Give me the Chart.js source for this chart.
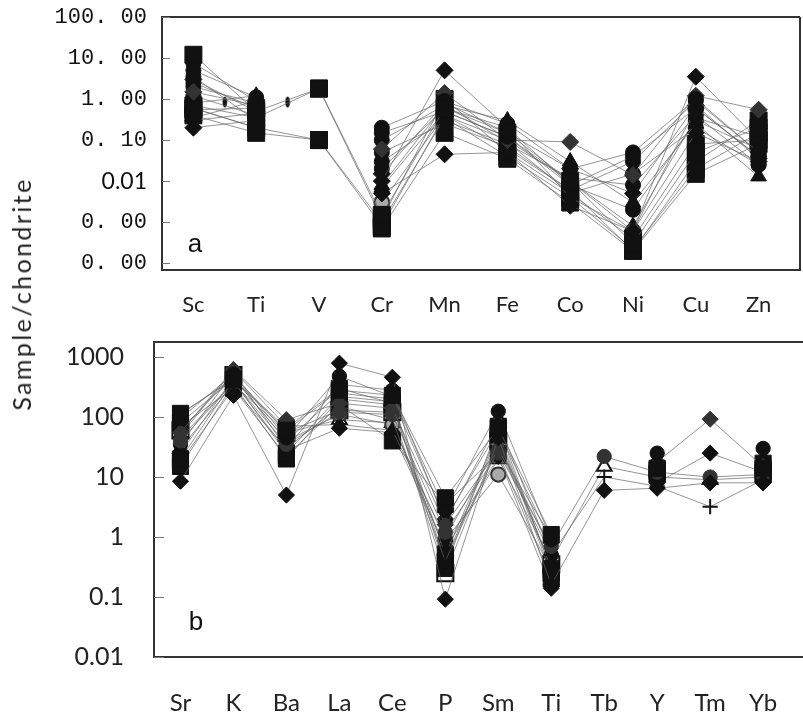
<!DOCTYPE html>
<html>
<head>
<meta charset="utf-8">
<script src="https://cdn.jsdelivr.net/npm/chart.js@4.4.1/dist/chart.umd.min.js"></script>
<style>
  body { margin: 0; background: #fff; width: 803px; height: 718px; position: relative; overflow: hidden; }
  canvas { position: absolute; left: 0; }
  #yTitle {
    position: absolute; left: 21px; top: 294px;
    transform: translate(-50%, -50%) rotate(-90deg);
    font-family: Lato, sans-serif; font-size: 25px; letter-spacing: 2.4px;
    white-space: nowrap; color: #222;
  }
</style>
</head>
<body>
<canvas id="chartA" width="803" height="320" style="top:0"></canvas>
<canvas id="chartB" width="803" height="398" style="top:320px"></canvas>
<div id="yTitle">Sample/chondrite</div>
<script>
// ---- panel a: transition metals ----
var elementsA = ["Sc", "Ti", "V", "Cr", "Mn", "Fe", "Co", "Ni", "Cu", "Zn"];
var tickValuesA = [100, 10, 1, 0.1, 0.01, 0.001, 0.0001];
var tickLabelsA = ["100. 00", "10. 00", "1. 00", "0. 10", "0.01", "0. 00", "0. 00"];

var a01 = [12, 0.5, 1.8, 0.0015, 0.6, 0.15, 0.01, 0.0003, 0.05, 0.2];
var a02 = [7.5, 0.9, null, 0.2, 0.9, 0.25, 0.02, 0.05, 1.0, 0.05];
var a03 = [5, 1.1, null, 0.15, 0.5, 0.12, 0.008, 0.04, 0.6, 0.04];
var a04 = [0.2, 0.3, null, 0.01, 5, 0.2, 0.004, 0.0006, 3.5, 0.1];
var a05 = [1.5, 0.7, null, 0.06, 1.4, 0.1, 0.09, 0.014, 1.2, 0.55];
var a06 = [0.6, 0.2, 0.1, 0.0008, 0.4, 0.06, 0.006, 0.0002, 0.03, 0.3];
var a07 = [2.5, 0.6, null, 0.03, 0.3, 0.08, 0.012, 0.008, 0.4, 0.025];
var a08 = [0.8, 1.2, null, 0.008, 0.7, 0.3, 0.03, 0.003, 0.25, 0.013];
var a09 = [0.3, 0.45, null, 0.005, 0.045, 0.05, 0.0025, 0.0006, 0.15, 0.03];
var a10 = [0.7, 0.35, 1.8, 0.0012, 1.0, 0.05, 0.005, 0.0004, 0.08, 0.1];
var a11 = [0.6, 0.2, null, 0.003, 0.4, 0.1, 0.01, 0.0006, 0.6, 0.04];
var a12 = [2, 0.8, null, 0.02, 0.6, 0.2, 0.008, 0.002, 0.3, 0.06];
var a13 = [0.4, 0.15, 0.1, 0.001, 0.35, 0.04, 0.004, 0.00022, 0.02, 0.15];
var a14 = [3, 0.5, null, 0.015, 0.8, 0.15, 0.02, 0.005, 0.7, 0.035];
var a15 = [1.2, 0.4, null, 0.05, 0.25, 0.07, 0.006, 0.03, 0.9, 0.05];
var a16 = [0.35, 0.9, null, 0.007, 0.5, 0.12, 0.01, 0.0008, 0.35, 0.12];
var a17 = [0.55, 0.6, null, 0.0007, 0.15, 0.035, 0.003, 0.0002, 0.015, 0.08];
var a18 = [3.5, 0.3, null, 0.1, 0.7, 0.09, 0.005, 0.015, 0.2, 0.025];
// short marks sitting between Sc-Ti and Ti-V
var midMarksA = [{ x: 0.5, y: 0.85 }, { x: 1.5, y: 0.85 }];

var seriesA = [a01, a02, a03, a04, a05, a06, a07, a08, a09, a10, a11, a12, a13, a14, a15, a16, a17, a18];
var shapeA = ["rect", "circle", "circle", "rectRot", "rectRot", "rect", "circle", "triangle", "rectRot",
              "rect", "circle", "circle", "rect", "rectRot", "circle", "triangle", "rect", "circle"];
var fillA = ["#111", "#111", "#111", "#111", "#333", "#111", "#111", "#111", "#111",
             "#111", "#aaa", "#111", "#111", "#111", "#111", "#111", "#111", "#111"];

// ---- panel b: trace elements ----
var elementsB = ["Sr", "K", "Ba", "La", "Ce", "P", "Sm", "Ti", "Tb", "Y", "Tm", "Yb"];
var tickValuesB = [1000, 100, 10, 1, 0.1, 0.01];
var tickLabelsB = ["1000", "100", "10", "1", "0.1", "0.01"];

var b01 = [115, 420, 60, 280, 230, 4.5, 65, 1.1, null, 14, null, 14];
var b02 = [95, 520, 45, 480, 220, 2.8, 125, 0.9, null, 25, null, 30];
var b03 = [8.5, 230, 5, 790, 460, 0.092, 45, 0.16, 6, 6.5, 8, 8];
var b04 = [55, 620, 90, 170, 140, 1.6, 28, 1.0, null, 18, 92, 15];
var b05 = [40, 380, 35, 120, 110, 1.2, 25, 0.7, 22, 12, 10, 11];
var b06 = [70, 300, 30, 150, 90, 0.4, 30, 0.5, 10, 7, 3.2, 9];
var b07 = [20, 400, 25, 220, 180, 0.5, 55, 0.3, null, 12, null, 12];
var b08 = [15, 350, 20, 200, 160, 0.4, 50, 0.25, null, 11, null, 17];
var b09 = [50, 600, 70, 75, 60, 1.0, 35, 0.6, null, 9, null, 10];
var b10 = [25, 450, 40, 250, 200, 2.0, 60, 0.8, null, 8, 25, 12];
var b11 = [35, 550, 30, 350, 280, 1.8, 80, 0.5, null, 16, null, 18];
var b12 = [18, 300, 22, 160, 40, 3.5, 25, 0.2, null, 13, null, 11];
var b13 = [45, 380, 28, 65, 55, 0.7, 22, 0.14, null, 15, null, 8];
var b14 = [80, 430, 65, 300, 170, 0.3, 70, 0.28, null, 13, null, 13];
var b15 = [110, 450, 40, 110, 75, 0.9, 11, 0.3, null, null, null, null];
var b16 = [60, 500, 55, 130, 120, 0.25, 40, 0.35, null, null, null, null];
var b17 = [30, 350, 55, 90, 80, 0.6, 20, 0.4, 15, 10, 9, 10];

var seriesB = [b01, b02, b03, b04, b05, b06, b07, b08, b09, b10, b11, b12, b13, b14, b15, b16, b17];
var shapeB = ["rect", "circle", "rectRot", "rectRot", "circle", "cross", "rect", "rect", "triangle",
              "rectRot", "circle", "rect", "rectRot", "rect", "circle", "rect", "triangle"];
var fillB = ["#111", "#111", "#111", "#333", "#333", "#111", "#111", "#111", "#111",
             "#111", "#111", "#111", "#111", "#111", "#aaa", "#fff", "#fff"];

var radiusOf = { rect: 12, circle: 7.5, rectRot: 8.5, triangle: 9, cross: 8 };

function toPoints(values) {
  return values.map(function (v, i) { return { x: i, y: v }; });
}

function buildSets(series, shapes, fills, scale) {
  return series.map(function (values, i) {
    var open = fills[i] === "#fff";
    var shape = shapes[i];
    return {
      data: toPoints(values),
      borderColor: "#666",
      borderWidth: 0.7,
      pointStyle: shape,
      pointRadius: radiusOf[shape] * scale,
      pointBackgroundColor: fills[i],
      pointBorderColor: open || shape === "cross" ? "#111" : (fills[i] === "#aaa" ? "#333" : fills[i]),
      pointBorderWidth: open || shape === "cross" || fills[i] === "#aaa" ? 2 : 1,
      spanGaps: false,
      tension: 0
    };
  });
}

// axes keep their box exactly where layout puts it
function noLabelPadding(s) {
  s.paddingTop = 0; s.paddingBottom = 0; s.paddingLeft = 0; s.paddingRight = 0;
}

// little vertical tick used for the marks between columns
var dashMark = document.createElement("canvas");
dashMark.width = 6; dashMark.height = 12;
(function () {
  var c = dashMark.getContext("2d");
  c.fillStyle = "#111";
  c.beginPath();
  c.ellipse(3, 6, 2.3, 5.5, 0, 0, Math.PI * 2);
  c.fill();
})();

// frame, inward ticks and panel letter
var framePlugin = {
  id: "frame",
  afterDraw: function (chart, args, opts) {
    var ctx = chart.ctx, a = chart.chartArea, y = chart.scales.y;
    ctx.save();
    ctx.strokeStyle = "#333";
    ctx.lineWidth = 2;
    ctx.beginPath();
    ctx.moveTo(opts.rightEdge, a.top); ctx.lineTo(a.left, a.top);
    ctx.lineTo(a.left, a.bottom); ctx.lineTo(opts.rightEdge, a.bottom);
    if (opts.closed) { ctx.lineTo(opts.rightEdge, a.top); }
    ctx.stroke();
    ctx.strokeStyle = "#777";
    ctx.lineWidth = 1;
    y.ticks.forEach(function (t) {
      var py = Math.round(y.getPixelForValue(t.value)) + 0.5;
      ctx.beginPath();
      ctx.moveTo(a.left, py); ctx.lineTo(a.left + opts.tickLen, py);
      ctx.stroke();
    });
    ctx.fillStyle = "#111";
    ctx.font = "26px 'Liberation Sans', Arial, sans-serif";
    ctx.textAlign = "center";
    ctx.textBaseline = "alphabetic";
    ctx.fillText(opts.letter, opts.letterX, opts.letterY);
    ctx.restore();
  }
};

var setsA = buildSets(seriesA, shapeA, fillA, 1);
setsA.push({
  data: midMarksA, showLine: false, pointStyle: dashMark, pointRadius: 6
});

new Chart(document.getElementById("chartA"), {
  type: "line",
  data: { datasets: setsA },
  plugins: [framePlugin],
  options: {
    responsive: false,
    animation: false,
    layout: { padding: { top: 17, right: 3, left: 0, bottom: 0 } },
    plugins: {
      legend: { display: false },
      tooltip: { enabled: false },
      frame: { closed: true, rightEdge: 800, tickLen: 8, letter: "a", letterX: 195, letterY: 252 }
    },
    scales: {
      x: {
        type: "linear", min: -0.5, max: 9.5,
        grid: { display: false, drawTicks: false },
        border: { display: false },
        afterBuildTicks: function (s) { s.ticks = elementsA.map(function (e, i) { return { value: i }; }); },
        afterFit: function (s) { s.height = 50; noLabelPadding(s); },
        ticks: {
          padding: 22, autoSkip: false, maxRotation: 0, color: "#222",
          font: { family: "Lato", size: 22 },
          callback: function (v, i) { return elementsA[i]; }
        }
      },
      y: {
        type: "logarithmic", min: 0.000068, max: 100,
        grid: { display: false, drawTicks: false },
        border: { display: false },
        afterBuildTicks: function (s) { s.ticks = tickValuesA.map(function (v) { return { value: v }; }); },
        afterFit: function (s) { s.width = 162; noLabelPadding(s); },
        ticks: {
          padding: 15, autoSkip: false, color: "#111",
          font: function (c) {
            return c.index === 4 ? { family: "Lato", size: 23 } : { family: "Liberation Mono", size: 22 };
          },
          callback: function (v, i) { return tickLabelsA[i]; }
        }
      }
    }
  }
});

new Chart(document.getElementById("chartB"), {
  type: "line",
  data: { datasets: buildSets(seriesB, shapeB, fillB, 0.95) },
  plugins: [framePlugin],
  options: {
    responsive: false,
    animation: false,
    layout: { padding: { top: 22, right: 0, left: 0, bottom: 0 } },
    plugins: {
      legend: { display: false },
      tooltip: { enabled: false },
      frame: { closed: false, rightEdge: 803, tickLen: 10, letter: "b", letterX: 196, letterY: 310 }
    },
    scales: {
      x: {
        type: "linear", min: -0.5, max: 11.5,
        grid: { display: false, drawTicks: false },
        border: { display: false },
        afterBuildTicks: function (s) { s.ticks = elementsB.map(function (e, i) { return { value: i }; }); },
        afterFit: function (s) { s.height = 61; noLabelPadding(s); },
        ticks: {
          padding: 32, autoSkip: false, maxRotation: 0, color: "#222",
          font: { family: "Lato", size: 24 },
          callback: function (v, i) { return elementsB[i]; }
        }
      },
      y: {
        type: "logarithmic", min: 0.01, max: 1780,
        grid: { display: false, drawTicks: false },
        border: { display: false },
        afterBuildTicks: function (s) { s.ticks = tickValuesB.map(function (v) { return { value: v }; }); },
        afterFit: function (s) { s.width = 154; noLabelPadding(s); },
        ticks: {
          padding: 30, autoSkip: false, color: "#222",
          font: { family: "Lato", size: 25 },
          callback: function (v, i) { return tickLabelsB[i]; }
        }
      }
    }
  }
});
</script>
</body>
</html>
